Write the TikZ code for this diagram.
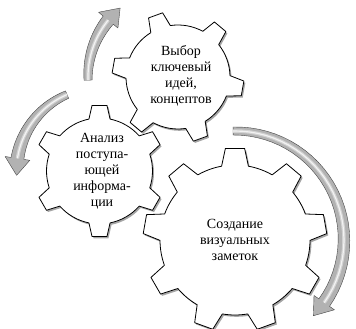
\documentclass[tikz,border=0pt]{standalone}
\usepackage{fontspec}
\setmainfont{Liberation Serif}
\usetikzlibrary{shadows}

\tikzset{
  ruota/.style={draw=black, line width=0.8pt, fill=white, line join=round,
    drop shadow={shadow xshift=1.5pt, shadow yshift=-1.8pt, opacity=.35, fill=black}},
  freccia/.style={fill=gray!60, draw=gray!55!black, line width=0.4pt, line join=round},
  testo/.style={align=center, inner sep=0pt, font=\fontsize{14}{16}\selectfont},
}

% ruota dentata: centro, denti, raggio esterno, raggio interno, rotazione, semiangolo punta, semiangolo base
\newcommand{\ruotadentata}[7]{%
  \begin{scope}[shift={#1}]
    \pgfmathsetmacro{\passo}{360/#2}
    \pgfmathtruncatemacro{\ultimo}{#2-1}
    \path[ruota] (#5-#7:#4) \foreach \k in {0,...,\ultimo}{
      -- (#5+\k*\passo-#6:#3) -- (#5+\k*\passo+#6:#3) -- (#5+\k*\passo+#7:#4)
      arc[start angle=#5+\k*\passo+#7, end angle=#5+\k*\passo+\passo-#7, radius=#4]} -- cycle;
  \end{scope}}

% freccia circolare: centro, raggio, angolo coda, angolo punta
\newcommand{\frecciacirc}[4]{%
  \begin{scope}[shift={#1}]
    \pgfmathsetmacro{\verso}{sign(#4-#3)}
    \pgfmathsetmacro{\abase}{#4-\verso*deg(17/#2)}
    \path[freccia] plot[domain=#3:\abase, samples=30] (\x:{#2+4+2.5*(\x-#3)/(\abase-#3)})
      -- (\abase:#2+12.5) -- (#4:#2) -- (\abase:#2-12.5)
      -- plot[domain=\abase:#3, samples=30] (\x:{#2-4-2.5*(\x-#3)/(\abase-#3)}) -- cycle;
    \draw[gray!35, line width=3.5pt] plot[domain=#3:\abase, samples=30] (\x:#2);
    \draw[gray!10, line width=1.2pt] plot[domain=#3:\abase, samples=30] (\x:#2);
  \end{scope}}

\begin{document}
\begin{tikzpicture}[x=1pt, y=1pt]
  \useasboundingbox (0,0) rectangle (356,329);

  % frecce grigie
  \frecciacirc{(178,252)}{90}{182}{130}
  \frecciacirc{(99.5,158)}{83}{113}{183}
  \frecciacirc{(235,89)}{109}{91}{-44}

  % ruote
  \ruotadentata{(178,252)}{6}{66}{52}{110}{6.5}{11.5}
  \ruotadentata{(99.5,158)}{6}{66}{53}{90}{6.5}{11.5}
  \ruotadentata{(235,89)}{9}{92}{75}{90}{6}{10.3}

  % testi
  \node[testo] (vybor) at (181,253) {Выбор\\ключевый\\идей,\\концептов};
  \node[testo] (analiz) at (102,158) {Анализ\\поступа-\\ющей\\информа-\\ции};
  \node[testo] (sozdanie) at (235,89) {Создание\\визуальных\\заметок};
\end{tikzpicture}
\end{document}
